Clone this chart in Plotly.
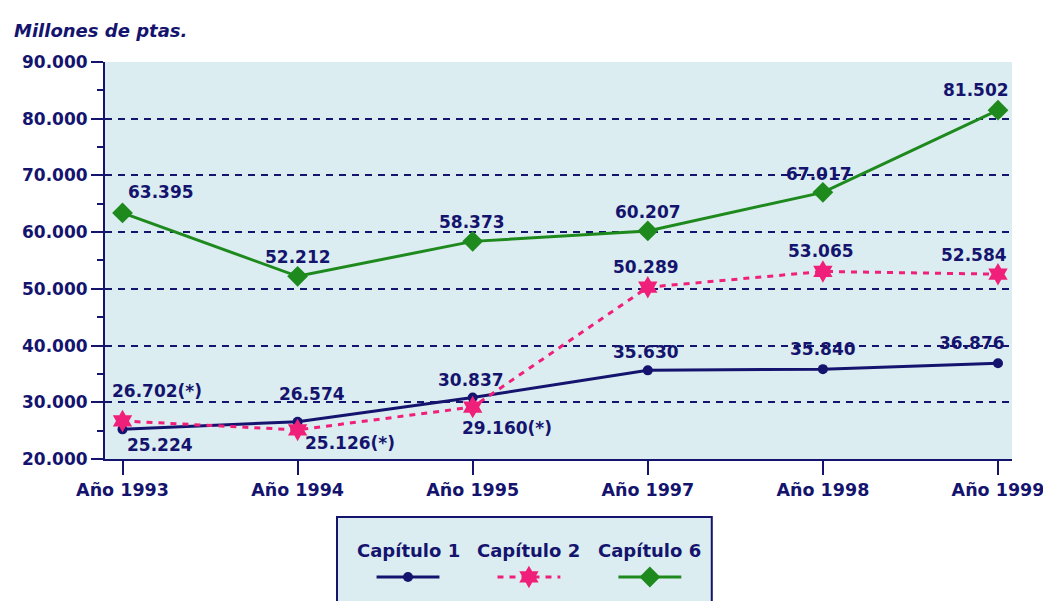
import plotly.graph_objects as go

categories = ["Año 1993", "Año 1994", "Año 1995", "Año 1997", "Año 1998", "Año 1999"]
cap1 = [25224, 26574, 30837, 35630, 35840, 36876]
cap2 = [26702, 25126, 29160, 50289, 53065, 52584]
cap6 = [63395, 52212, 58373, 60207, 67017, 81502]
cap2_flag = [True, True, True, False, False, False]
y_ticks = [20000, 30000, 40000, 50000, 60000, 70000, 80000, 90000]

# label offsets in pixels (dx right, dy down) relative to each point - styling only
cap1_off = [(37, 16), (14, -28), (-2, -18), (-2, -18), (0, -20), (-26, -20)]
cap2_off = [(34, -30), (52, 13), (34, 21), (-2, -20), (-2, -20), (-24, -19)]
cap6_off = [(38, -21), (0, -19), (-1, -19), (0, -19), (-4, -18), (-22, -20)]

NAVY = "#14146e"
PINK = "#f0207a"
GREEN = "#1e8a1e"
BG = "#dcedf1"
FONT = "DejaVu Sans"


def fmt(v, flag=False):
    s = f"{v:,}".replace(",", ".")
    return s + ("(*)" if flag else "")


def tfont(size):
    return dict(family=FONT, size=size, color=NAVY, weight="bold")


xs = list(range(len(categories)))
fig = go.Figure()

fig.add_trace(go.Scatter(
    x=xs, y=cap1, mode="lines+markers", name="Capítulo 1",
    line=dict(color=NAVY, width=3), marker=dict(symbol="circle", size=10, color=NAVY),
    showlegend=False, cliponaxis=False))
fig.add_trace(go.Scatter(
    x=xs, y=cap2, mode="lines+markers", name="Capítulo 2",
    line=dict(color=PINK, width=3, dash="6px,6px"), marker=dict(symbol="hexagram", size=17, color=PINK),
    showlegend=False, cliponaxis=False))
fig.add_trace(go.Scatter(
    x=xs, y=cap6, mode="lines+markers", name="Capítulo 6",
    line=dict(color=GREEN, width=3), marker=dict(symbol="diamond", size=16, color=GREEN),
    showlegend=False, cliponaxis=False))

# value labels
series_labels = [
    (cap1, [False] * len(cap1), cap1_off),
    (cap2, cap2_flag, cap2_off),
    (cap6, [False] * len(cap6), cap6_off),
]
for vals, flags, offs in series_labels:
    for xi, v, f, (dx, dy) in zip(xs, vals, flags, offs):
        fig.add_annotation(x=xi, y=v, xref="x", yref="y", text=fmt(v, f), showarrow=False,
                           xanchor="center", yanchor="middle", xshift=dx, yshift=-dy,
                           font=tfont(17))

# custom legend (labels above symbols) in a hidden second axis system
leg_names = ["Capítulo 1", "Capítulo 2", "Capítulo 6"]
leg_styles = [
    dict(color=NAVY, dash="solid", symbol="circle", size=10),
    dict(color=PINK, dash="6px,6px", symbol="hexagram", size=17),
    dict(color=GREEN, dash="solid", symbol="diamond", size=16),
]
for i, (nm, st) in enumerate(zip(leg_names, leg_styles)):
    fig.add_trace(go.Scatter(
        x=[i - 0.26, i + 0.26], y=[0, 0], xaxis="x2", yaxis="y2",
        mode="lines", showlegend=False, hoverinfo="skip",
        line=dict(color=st["color"], width=3, dash=st["dash"])))
    fig.add_trace(go.Scatter(
        x=[i], y=[0], xaxis="x2", yaxis="y2",
        mode="markers", showlegend=False, hoverinfo="skip",
        marker=dict(symbol=st["symbol"], size=st["size"], color=st["color"], opacity=1)))
    fig.add_annotation(x=i, y=1, xref="x2", yref="y2", text=nm, showarrow=False,
                       font=tfont(18))

fig.add_shape(type="rect", xref="paper", yref="paper", x0=0.2558, x1=0.669, y0=-0.05, y1=0.129,
              line=dict(color=NAVY, width=2), fillcolor=BG, layer="below")

fig.add_annotation(x=-0.1025, y=0.979, xref="paper", yref="paper", xanchor="left", yanchor="middle",
                   text="<i>Millones de ptas.</i>", showarrow=False,
                   font=tfont(18))

fig.update_layout(
    width=1043, height=593,
    margin=dict(l=97, r=39, t=10, b=10),
    paper_bgcolor="white", plot_bgcolor="white",
    separators=",.",
    font=dict(family=FONT, size=15, color=NAVY),
    xaxis=dict(
        tickmode="array", tickvals=xs, ticktext=categories, automargin=False,
        range=[-0.1, 5.08], showgrid=False, zeroline=False,
        showline=True, linecolor=NAVY, linewidth=2,
        ticks="outside", ticklen=14, tickwidth=2, tickcolor=NAVY,
        tickfont=tfont(17.5)),
    yaxis=dict(
        domain=[0.2304, 0.9232], automargin=False,
        range=[20000, 90000], tickvals=y_ticks, tickformat=",d",
        showgrid=True, gridcolor=NAVY, griddash="7px,6px", gridwidth=1.5,
        zeroline=False, showline=True, linecolor=NAVY, linewidth=2,
        ticks="outside", ticklen=12, tickwidth=2, tickcolor=NAVY,
        tickfont=tfont(17),
        minor=dict(dtick=5000, ticks="outside", ticklen=6, tickcolor=NAVY, tickwidth=2, showgrid=False)),
    xaxis2=dict(domain=[0.2558, 0.669], anchor="y2", range=[-0.587, 2.512], visible=False,
                fixedrange=True, automargin=False),
    yaxis2=dict(domain=[0.0, 0.12], anchor="x2", range=[-0.52, 2.03], visible=False,
                fixedrange=True, automargin=False),
)

# shaded plot background only for the main plot area
fig.add_shape(type="rect", xref="x domain", yref="y domain", x0=0, x1=1, y0=0, y1=1,
              fillcolor=BG, line=dict(width=0), layer="below")

fig.write_html("out.html")
